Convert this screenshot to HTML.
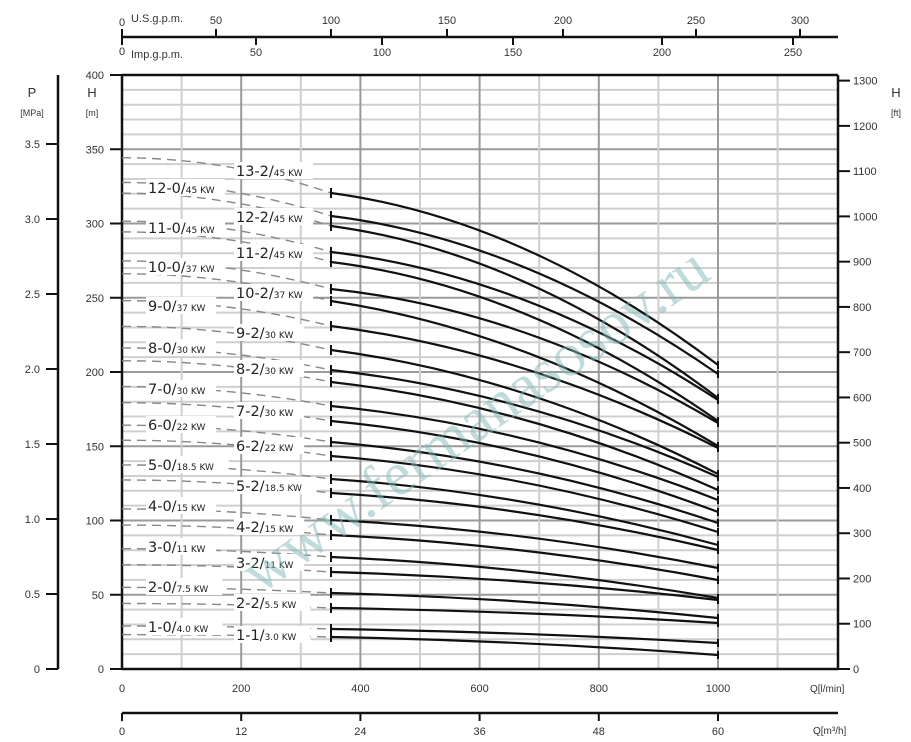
<!DOCTYPE html>
<html><head><meta charset="utf-8"><style>
html,body{margin:0;padding:0;background:#fff}
svg{display:block;font-family:"Liberation Sans",sans-serif}
.l{font-family:"DejaVu Sans","Liberation Sans",sans-serif;font-size:14.5px;fill:#222}
.k{font-size:9px}
</style></head><body>
<svg id="s" width="911" height="742" viewBox="0 0 911 742" xmlns="http://www.w3.org/2000/svg">
<g id="grid"></g>
<g font-size="11" fill="#333" stroke="none">
<text x="119" y="26">0</text><text x="131" y="22">U.S.g.p.m.</text>
<text x="216" y="24" text-anchor="middle">50</text><text x="331" y="24" text-anchor="middle">100</text>
<text x="447" y="24" text-anchor="middle">150</text><text x="563" y="24" text-anchor="middle">200</text>
<text x="696" y="24" text-anchor="middle">250</text><text x="800" y="24" text-anchor="middle">300</text>
<text x="119" y="55">0</text><text x="131" y="58">Imp.g.p.m.</text>
<text x="256" y="56" text-anchor="middle">50</text><text x="382" y="56" text-anchor="middle">100</text>
<text x="513" y="56" text-anchor="middle">150</text><text x="662" y="56" text-anchor="middle">200</text>
<text x="793" y="56" text-anchor="middle">250</text>
<text x="32" y="97" font-size="13" text-anchor="middle">P</text><text x="32" y="116" font-size="9" text-anchor="middle">[MPa]</text>
<text x="92" y="97" font-size="13" text-anchor="middle">H</text><text x="92" y="116" font-size="9" text-anchor="middle">[m]</text>
<text x="896" y="97" font-size="13" text-anchor="middle">H</text><text x="896" y="116" font-size="9" text-anchor="middle">[ft]</text>
<text x="810" y="692" font-size="10">Q[l/min]</text>
<text x="813" y="734" font-size="10">Q[m³/h]</text>
</g>
<g id="curves"></g>
<g id="labels" class="l"></g>
<text x="475" y="440" text-anchor="middle" transform="rotate(-35 475 420)" font-family="Liberation Serif,serif" font-size="62" fill="#7fb8b8" fill-opacity="0.5">www.fermanasosov.ru</text>
</svg>
<script>
var NS="http://www.w3.org/2000/svg";
function el(p,t,a,txt){var e=document.createElementNS(NS,t);for(var k in a)e.setAttribute(k,a[k]);if(txt!=null)e.textContent=txt;p.appendChild(e);return e;}
var g=document.getElementById('grid'),c=document.getElementById('curves'),L=document.getElementById('labels');
function Y(h){return 669-h*1.485;}function X(q){return 122+q*0.596;}
for(var h=10;h<400;h+=10){var maj=h%50==0;el(g,'line',{x1:122,x2:838,y1:Y(h),y2:Y(h),stroke:maj?'#9a9a9a':'#cfcfcf','stroke-width':2});}
for(var q=100;q<1200;q+=100){var maj=q%200==0;el(g,'line',{x1:X(q),x2:X(q),y1:75,y2:669,stroke:maj?'#9a9a9a':'#cfcfcf','stroke-width':2});}
el(g,'line',{x1:122,x2:838,y1:75,y2:75,stroke:'#111','stroke-width':2.5});
el(g,'line',{x1:122,x2:838,y1:669,y2:669,stroke:'#111','stroke-width':2.5});
el(g,'line',{x1:122,x2:122,y1:75,y2:669,stroke:'#111','stroke-width':2.5});
el(g,'line',{x1:838,x2:838,y1:75,y2:669,stroke:'#111','stroke-width':2.5});
for(var h=0;h<=400;h+=50){el(g,'line',{x1:110,x2:122,y1:Y(h),y2:Y(h),stroke:'#111','stroke-width':2});el(g,'text',{x:104,y:Y(h)+4,'text-anchor':'end','font-size':11,fill:'#333'},h);}
el(g,'line',{x1:58,x2:58,y1:75,y2:669,stroke:'#111','stroke-width':2.5});
for(var p=0;p<=3.5;p+=0.5){var y=669-p*150;el(g,'line',{x1:46,x2:58,y1:y,y2:y,stroke:'#111','stroke-width':2});el(g,'text',{x:40,y:y+4,'text-anchor':'end','font-size':11,fill:'#333'},p==0?'0':p.toFixed(1));}
for(var f=0;f<=1300;f+=100){var y=669-f*0.4526;el(g,'line',{x1:838,x2:850,y1:y,y2:y,stroke:'#111','stroke-width':2});el(g,'text',{x:853,y:y+4,'font-size':11,fill:'#333'},f);}
var ql=[0,200,400,600,800,1000];ql.forEach(function(q){el(g,'text',{x:X(q),y:692,'text-anchor':'middle','font-size':11,fill:'#333'},q);});
el(g,'line',{x1:122,x2:838,y1:713,y2:713,stroke:'#111','stroke-width':2.5});
[0,12,24,36,48,60].forEach(function(m,i){var x=X(ql[i]);el(g,'line',{x1:x,x2:x,y1:713,y2:721,stroke:'#111','stroke-width':2});el(g,'text',{x:x,y:735,'text-anchor':'middle','font-size':11,fill:'#333'},m);});
el(g,'line',{x1:122,x2:838,y1:37,y2:37,stroke:'#111','stroke-width':2.5});
[122,216,331,447,563,696,800].forEach(function(x){el(g,'line',{x1:x,x2:x,y1:29,y2:37,stroke:'#111','stroke-width':2});});
[122,256,382,513,662,793].forEach(function(x){el(g,'line',{x1:x,x2:x,y1:37,y2:45,stroke:'#111','stroke-width':2});});
var P=[[193,365],[216,374],[226,398],[252,400],[262,421],[289,423],[301,446],[326,448],[350,474],[370,477],[382,490],[406,500],[421,512],[442,523],[456,532],[479,545],[493,550],[520,568],[535,580],[557,598],[572,600],[593,618],[608,623],[629,643],[637,655]];
P.forEach(function(v,i){var y0=v[0],y1=v[1],D=y1-y0,d=0.074*(669-y0);var a=i<6?0.3:0.4;
el(c,'path',{d:'M122 '+(y0-d)+' Q226.5 '+(y0-d)+' 331 '+y0,fill:'none',stroke:'#888','stroke-width':1.4,'stroke-dasharray':'9 6'});
el(c,'path',{d:'M331 '+y0+' Q524.5 '+(y0+a*D/2)+' 718 '+y1,fill:'none',stroke:'#111','stroke-width':2.2});
el(c,'line',{x1:331,x2:331,y1:y0-5,y2:y0+5,stroke:'#111','stroke-width':2});
el(c,'line',{x1:718,x2:718,y1:y1-4,y2:y1+4,stroke:'#111','stroke-width':2});});
var labs=[["13-2/","45 KW",236,171],["12-0/","45 KW",148,188],["12-2/","45 KW",236,217],["11-0/","45 KW",148,228],["11-2/","45 KW",236,253],["10-0/","37 KW",148,267],["10-2/","37 KW",236,293],["9-0/","37 KW",148,306],["9-2/","30 KW",236,333],["8-0/","30 KW",148,348],["8-2/","30 KW",236,369],["7-0/","30 KW",148,389],["7-2/","30 KW",236,411],["6-0/","22 KW",148,425],["6-2/","22 KW",236,446],["5-0/","18.5 KW",148,465],["5-2/","18.5 KW",236,486],["4-0/","15 KW",148,506],["4-2/","15 KW",236,527],["3-0/","11 KW",148,547],["3-2/","11 KW",236,563],["2-0/","7.5 KW",148,587],["2-2/","5.5 KW",236,603],["1-0/","4.0 KW",148,627],["1-1/","3.0 KW",236,635]];
labs.forEach(function(l){var w=l[0].length*8.8+l[1].length*6.2+4;el(L,'rect',{x:l[2]-2,y:l[3]-9,width:w,height:17,fill:'#fff'});
var t=el(L,'text',{x:l[2],y:l[3]+5});el(t,'tspan',{},l[0]);el(t,'tspan',{'class':'k'},l[1]);});
</script>
</body></html>
